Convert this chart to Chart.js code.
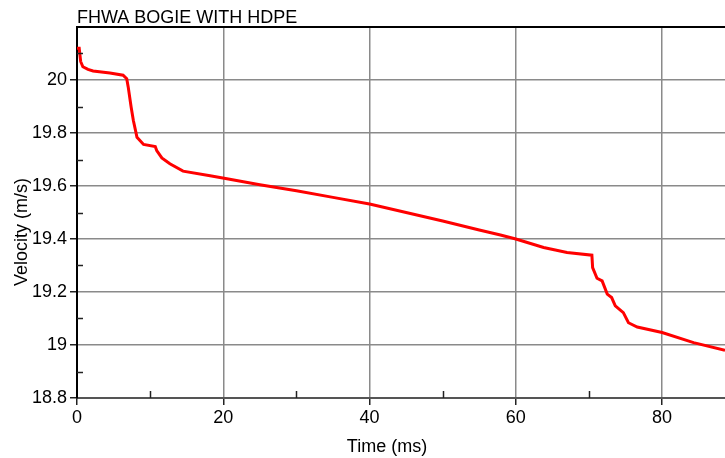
<!DOCTYPE html>
<html>
<head>
<meta charset="utf-8">
<script src="https://cdn.jsdelivr.net/npm/chart.js@4"></script>
<style>
  body { margin: 0; background: #fff; }
  #wrap { width: 725px; height: 458px; }
</style>
</head>
<body>
<div id="wrap"><canvas id="velChart" width="725" height="458"></canvas></div>
<script>
// Time (ms) and velocity (m/s)
const timeMs = [0, 0.3, 0.5, 0.8, 1.5, 2.2, 4.5, 6.3, 6.8, 7.0, 7.4, 7.7, 8.2, 9.1, 10.7, 10.9, 11.6, 12.7, 14.5, 18.2, 20.5, 25.0,
  30, 35, 40, 45, 50, 55, 57.9, 60, 63.8, 67.0, 70.4, 70.5, 71.1, 71.8, 72.5, 73.1, 73.6, 74.7, 75.4, 76.6, 80.0, 84.3, 88.6];
const velocity = [20.12, 20.12, 20.07, 20.05, 20.04, 20.034, 20.026, 20.018, 20.005, 19.974, 19.898, 19.848, 19.784, 19.757, 19.749, 19.734, 19.706, 19.684, 19.656, 19.639, 19.627, 19.605,
  19.582, 19.557, 19.532, 19.500, 19.468, 19.434, 19.415, 19.400, 19.368, 19.349, 19.339, 19.292, 19.252, 19.242, 19.192, 19.179, 19.148, 19.122, 19.084, 19.068, 19.047, 19.009, 18.980];

const xTicks = [0, 20, 40, 60, 80];
const xMinorTicks = [10, 30, 50, 70];
const yTicks = [18.8, 19, 19.2, 19.4, 19.6, 19.8, 20];
const yMinorTicks = [18.9, 19.1, 19.3, 19.5, 19.7, 19.9, 20.1];

const chartTitle = "FHWA BOGIE WITH HDPE";
const xTitle = "Time (ms)";
const yTitle = "Velocity (m/s)";

const FONT = "Arial, 'Liberation Sans', sans-serif";

// frame top, minor ticks and titles
const decorations = {
  id: "decorations",
  afterDraw(chart) {
    const { ctx, chartArea, scales } = chart;
    ctx.save();
    ctx.strokeStyle = "#000";
    ctx.lineWidth = 2;
    ctx.beginPath();
    ctx.moveTo(chartArea.left - 1, chartArea.top);
    ctx.lineTo(chartArea.right, chartArea.top);
    ctx.stroke();

    ctx.lineWidth = 1.5;
    ctx.strokeStyle = "#222";
    xMinorTicks.forEach(v => {
      const px = Math.round(scales.x.getPixelForValue(v)) + 0.5;
      ctx.beginPath();
      ctx.moveTo(px, chartArea.bottom);
      ctx.lineTo(px, chartArea.bottom - 7);
      ctx.stroke();
    });
    yMinorTicks.forEach(v => {
      const py = Math.round(scales.y.getPixelForValue(v)) + 0.5;
      ctx.beginPath();
      ctx.moveTo(chartArea.left, py);
      ctx.lineTo(chartArea.left + 6, py);
      ctx.stroke();
    });

    ctx.fillStyle = "#000";
    ctx.font = "18px " + FONT;
    ctx.textBaseline = "alphabetic";
    ctx.textAlign = "left";
    ctx.fillText(chartTitle, chartArea.left, 23);

    ctx.textAlign = "center";
    ctx.fillText(xTitle, 387, 452);

    ctx.translate(27, 232);
    ctx.rotate(-Math.PI / 2);
    ctx.fillText(yTitle, 0, 0);
    ctx.restore();
  }
};

const ctx = document.getElementById("velChart").getContext("2d");
new Chart(ctx, {
  type: "line",
  data: {
    datasets: [{
      data: timeMs.map((t, i) => ({ x: t, y: velocity[i] })),
      borderColor: "#ff0000",
      borderWidth: 3,
      pointRadius: 0,
      tension: 0,
      fill: false
    }]
  },
  options: {
    responsive: false,
    devicePixelRatio: 1,
    animation: false,
    layout: { padding: { top: 27, right: 0, left: 0, bottom: 0 } },
    plugins: { legend: { display: false }, title: { display: false }, tooltip: { enabled: false } },
    scales: {
      x: {
        type: "linear",
        min: 0,
        max: 88.6,
        afterBuildTicks: s => { s.ticks = xTicks.map(v => ({ value: v })); },
        afterFit: s => { s.height = 60; },
        grid: { color: "#8a8a8a", lineWidth: 1.5, tickLength: 7, tickColor: "#222" },
        border: { display: true, color: "#555", width: 2 },
        ticks: { color: "#000", font: { size: 18, family: FONT }, padding: 2, maxRotation: 0 }
      },
      y: {
        min: 18.8,
        max: 20.2,
        afterBuildTicks: s => { s.ticks = yTicks.map(v => ({ value: v })); },
        afterFit: s => { s.width = 77; },
        grid: { color: "#8a8a8a", lineWidth: 1.5, tickLength: 7, tickColor: "#222" },
        border: { display: true, color: "#000", width: 2 },
        ticks: { color: "#000", font: { size: 18, family: FONT }, padding: 3, callback: v => String(Math.round(v * 10) / 10) }
      }
    }
  },
  plugins: [decorations]
});
</script>
</body>
</html>
